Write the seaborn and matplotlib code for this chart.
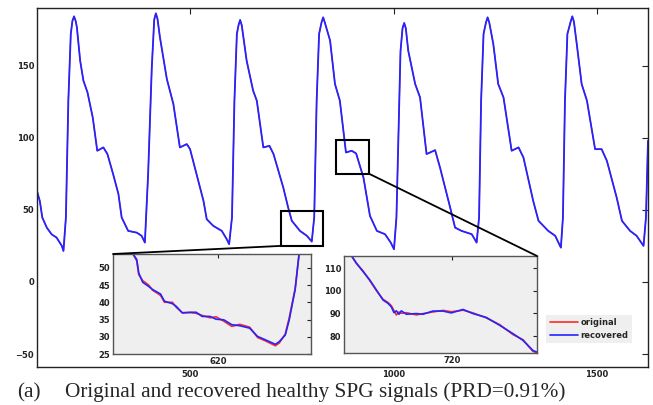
import numpy as np
import pandas as pd
import matplotlib
matplotlib.use("Agg")
import matplotlib.pyplot as plt
import seaborn as sns
from matplotlib.patches import Rectangle, ConnectionPatch
from matplotlib.lines import Line2D

# ---------------- data ----------------
main_x = [124, 131, 137, 148, 160, 172, 185, 189,
          195, 201, 207, 211, 215, 219, 222, 230, 238, 248, 261, 272, 287, 297, 311, 324, 332, 348, 369, 381, 389,
          397, 406, 412, 416, 420, 426, 443, 459, 475, 492, 500, 516, 533, 541, 557, 578, 590, 596,
          603, 609, 615, 619, 623, 627, 639, 655, 664, 680, 695, 705, 729, 741, 750, 770, 787, 799,
          805, 811, 817, 823, 827, 831, 844, 856, 868, 883, 897, 908, 926, 942, 959, 979, 993, 1001,
          1007, 1012, 1017, 1022, 1026, 1030, 1036, 1053, 1065, 1081, 1102, 1114, 1139, 1151, 1167, 1192, 1204,
          1210, 1215, 1221, 1227, 1231, 1235, 1245, 1257, 1270, 1290, 1307, 1319, 1343, 1356, 1380, 1397, 1411,
          1416, 1421, 1427, 1435, 1439, 1443, 1450, 1462, 1475, 1495, 1511, 1524, 1548, 1561, 1581, 1597, 1614,
          1620, 1625]
main_recovered = [63, 56, 44.7, 37.7, 33, 30.8, 25, 21.5,
                  44.7, 125.7, 172, 181, 184.2, 181, 176.6, 153.5, 139.6, 131.5, 114, 91, 93.3, 88.7, 74.8, 61,
                  44.7, 35.4, 34.2, 32, 27.3,
                  74.8, 148.8, 182, 186.3, 182.5, 169.7, 140.7, 123.4, 93.3, 95.6, 92.1, 74.8, 56.2, 43.5, 38.9,
                  35.4, 29.7, 26.2,
                  44.7, 125.7, 172, 178, 181.7, 178, 153.5, 132.6, 125.7, 93.3, 94.4, 88.7, 65.5, 51.6, 42.4,
                  35.4, 32, 28,
                  44.7, 125.7, 172, 180, 183.5, 180, 167.4, 137.3, 125.7, 89.8, 91, 89.1, 72.4, 45.8, 35.4, 33.1,
                  27.3, 22.7,
                  44.7, 102.6, 160, 176, 179.6, 176, 160.4, 137.3, 128, 88.7, 91.4, 79.4, 51.6, 37.7, 35.4, 33.1,
                  27.3,
                  44.7, 125.7, 172, 180, 183.5, 180, 165, 137.3, 128, 91, 93.3, 86.3, 56.2, 42.4, 35.4, 32, 23.8,
                  44.7, 125.7, 172, 180.5, 184.2, 180.5, 165, 137.3, 125.7, 92.1, 92.1, 84, 58.6, 42.4, 35.4, 32,
                  25,
                  44.7, 97.9]
main_original = list(main_recovered)

ins1_x = [577, 579, 580, 582, 585, 587, 591, 593, 597, 599, 602, 606, 609, 612,
          616, 619, 623, 627, 631, 636, 640, 644, 649, 651, 654, 656, 659, 661]
ins1_recovered = [54.1, 52.4, 48.5, 45.8, 44.6, 43.7, 42.4, 40.3, 39.6, 38.8, 36.9, 37.1, 37.1, 35.9,
                  35.9, 35.1, 34.9, 33.5, 33.2, 32.5, 30.1, 29.1, 27.8, 28.6, 30.5, 34.9, 43.7, 54.1]
ins1_original = [54.1, 52.0, 48.0, 46.3, 45.0, 43.5, 42.0, 40.0, 40.0, 38.5, 37.0, 37.0, 36.8, 36.2,
                 35.5, 35.8, 34.5, 33.0, 33.6, 32.8, 29.8, 28.8, 27.4, 28.2, 30.8, 35.5, 44.0, 54.1]

ins2_x = [667.8, 670.4, 673.8, 677.3, 680.8, 684.2, 686.8, 688.5, 689.9, 691.1, 692.5, 693.7, 696.3,
          701.5, 704.9, 710.1, 715.3, 719.6, 725.7, 730.8, 737.7, 744.7, 751.6, 756.7, 761.9, 764]
ins2_recovered = [115.5, 112.2, 108.5, 104.8, 100.3, 95.9, 94.4, 92.9, 90.3, 91.1, 89.6, 91.1, 89.6,
                  89.9, 89.6, 91.0, 91.0, 90.2, 91.7, 89.9, 88.2, 84.7, 81.0, 78.1, 73.6, 72.9]
ins2_original = [115.5, 112.0, 108.8, 104.5, 100.0, 96.2, 94.8, 93.4, 91.2, 89.3, 90.6, 90.0, 90.3,
                 89.3, 89.9, 90.6, 91.3, 90.7, 91.4, 90.2, 88.0, 85.0, 80.6, 78.4, 73.2, 72.6]

main_xticks = [500, 1000, 1500]
main_yticks = [-50, 0, 50, 100, 150]
ins1_xticks = [620]
ins1_yticks = [25, 30, 35, 40, 45, 50]
ins2_xticks = [720]
ins2_yticks = [80, 90, 100, 110]
labels = ["original", "recovered"]
caption_tag = "(a)"
caption = "Original and recovered healthy SPG signals (PRD=0.91%)"

# ---------------- style ----------------
sns.set_theme(style="white")
plt.rcParams['font.family'] = ['DejaVu Sans']
RED = "#ff2a2a"
BLUE = "#2424ff"
W, H = 653, 405

fig = plt.figure(figsize=(W / 100, H / 100), dpi=100)


def frac_box(x0, y0, x1, y1):
    return [x0 / W, 1 - y1 / H, (x1 - x0) / W, (y1 - y0) / H]


def style_ax(a, fs=6, length=4, spine="#222222"):
    a.tick_params(direction="in", length=length, width=0.8, top=True, right=True,
                  labelsize=fs, pad=2, colors="#222222")
    for s in a.spines.values():
        s.set_color(spine)
        s.set_linewidth(1.0)
    for lab in a.get_xticklabels() + a.get_yticklabels():
        lab.set_fontweight("bold")
    a.set_xlabel("")
    a.set_ylabel("")


# main axes
ax = fig.add_axes(frac_box(37, 8, 648, 367))
dfm = pd.DataFrame({"x": main_x, "original": main_original, "recovered": main_recovered})
sns.lineplot(data=dfm, x="x", y="original", ax=ax, color=RED, lw=0.9, sort=False)
sns.lineplot(data=dfm, x="x", y="recovered", ax=ax, color=BLUE, lw=1.3, sort=False)
ax.set_xlim(124, 1625)
ax.set_ylim(-59, 190)
ax.set_xticks(main_xticks)
ax.set_yticks(main_yticks)
ax.set_facecolor("white")
style_ax(ax)

# zoom boxes on main axes
box1 = (723.5, 25.0, 827.0, 49.3)
box2 = (859.0, 75.0, 940.0, 98.6)
for (x0, y0, x1, y1) in (box1, box2):
    ax.add_patch(Rectangle((x0, y0), x1 - x0, y1 - y0, fill=False, ec="black", lw=1.5, zorder=5))

# inset 1
ins1 = fig.add_axes(frac_box(113, 254, 311, 354))
d1 = pd.DataFrame({"x": ins1_x, "original": ins1_original, "recovered": ins1_recovered})
sns.lineplot(data=d1, x="x", y="original", ax=ins1, color=RED, lw=1.2, sort=False)
sns.lineplot(data=d1, x="x", y="recovered", ax=ins1, color=BLUE, lw=1.2, sort=False)
ins1.set_xlim(567, 667)
ins1.set_ylim(25, 54)
ins1.set_xticks(ins1_xticks)
ins1.set_yticks(ins1_yticks)
ins1.set_facecolor("#efefef")
style_ax(ins1, length=3, spine="#555555")

# inset 2
ins2 = fig.add_axes(frac_box(344, 256, 537, 353))
d2 = pd.DataFrame({"x": ins2_x, "original": ins2_original, "recovered": ins2_recovered})
sns.lineplot(data=d2, x="x", y="original", ax=ins2, color=RED, lw=1.2, sort=False)
sns.lineplot(data=d2, x="x", y="recovered", ax=ins2, color=BLUE, lw=1.2, sort=False)
ins2.set_xlim(664, 764)
ins2.set_ylim(72.5, 115.3)
ins2.set_xticks(ins2_xticks)
ins2.set_yticks(ins2_yticks)
ins2.set_facecolor("#efefef")
style_ax(ins2, length=3, spine="#555555")

# connector lines
con1 = ConnectionPatch(xyA=(0, 1), coordsA=ins1.transAxes, xyB=(box1[0], box1[1]),
                       coordsB=ax.transData, color="black", lw=1.3)
con2 = ConnectionPatch(xyA=(1, 1), coordsA=ins2.transAxes, xyB=(box2[2], box2[1]),
                       coordsB=ax.transData, color="black", lw=1.3)
fig.add_artist(con1)
fig.add_artist(con2)

# legend
handles = [Line2D([], [], color=RED, lw=1.2), Line2D([], [], color=BLUE, lw=1.2)]
leg = fig.legend(handles, labels, loc="center", bbox_to_anchor=(589 / W, 1 - 329 / H),
                 prop={"weight": "bold", "size": 6}, frameon=True, fancybox=False,
                 handlelength=3.4, handletextpad=0.3, labelspacing=0.5,
                 borderpad=0.4, borderaxespad=0)
leg.get_frame().set_facecolor("#ececec")
leg.get_frame().set_edgecolor("none")

# caption
fig.text(17 / W, 1 - 397 / H, caption_tag, family="Liberation Serif", fontsize=15.3, va="baseline")
fig.text(65 / W, 1 - 397 / H, caption, family="Liberation Serif", fontsize=15.3, va="baseline")

fig.savefig("out.png", dpi=100)
